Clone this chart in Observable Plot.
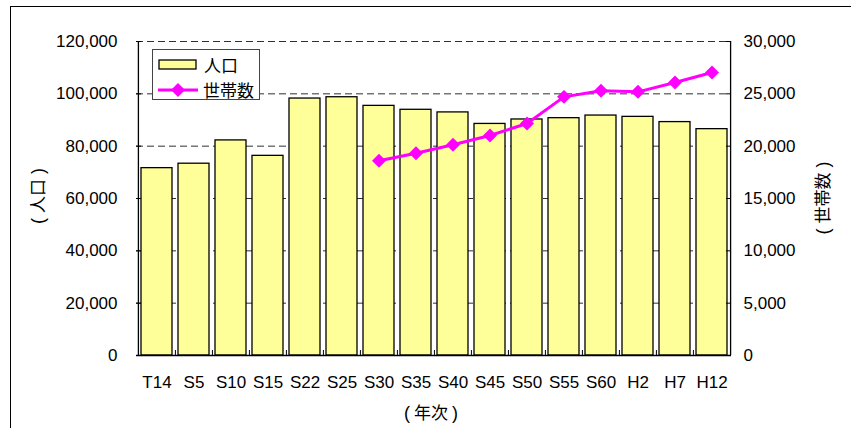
<!DOCTYPE html>
<html><head><meta charset="utf-8">
<script src="https://cdn.jsdelivr.net/npm/d3@7"></script>
<script src="https://cdn.jsdelivr.net/npm/@observablehq/plot@0.6"></script>
<style>
html,body{margin:0;padding:0;background:#fff;overflow:hidden}
#wrap{position:relative;width:851px;height:428px;overflow:hidden;font-family:"Liberation Sans",Arial,sans-serif;color:#000}
#frame{position:absolute;left:10px;top:6px;width:1000px;height:1000px;border:1px solid #000;box-sizing:border-box}
#chart{position:absolute;left:0;top:0}
.cjk{font-family:"Noto Sans CJK JP","Noto Sans CJK SC",sans-serif}
.vt{position:absolute;white-space:nowrap;font-size:17px;transform:translate(-50%,-50%) rotate(-90deg)}
.vt .p{font-family:"Liberation Sans",Arial,sans-serif;font-size:18px;margin:0 5px}
#xt{position:absolute;white-space:nowrap;font-size:17px;transform:translate(-50%,-50%)}
#xt .p{font-family:"Liberation Sans",Arial,sans-serif;font-size:18px;margin:0 4px}
#legend{position:absolute;left:152px;top:49px;width:108px;height:51px;border:1.5px solid #444;box-sizing:border-box;background:#fff}
#legend .row{position:absolute;left:0;height:20px;display:flex;align-items:center}
#legend .lbl{font-size:17px;margin-left:6px;line-height:20px}
</style></head>
<body><div id="wrap">
<div id="frame"></div>
<div id="chart"></div>
<div class="vt cjk" style="left:36px;top:196px"><span class="p">(</span>人口<span class="p">)</span></div>
<div class="vt cjk" style="left:821px;top:198px"><span class="p">(</span>世帯数<span class="p">)</span></div>
<div id="xt" class="cjk" style="left:431px;top:411px"><span class="p">(</span>年次<span class="p">)</span></div>
<div id="legend">
  <div class="row" style="left:5px;top:5px">
    <svg width="40" height="12"><rect x="1" y="1" width="37" height="9" fill="#FFFF99" stroke="#000" stroke-width="1.3"/></svg>
    <span class="lbl cjk">人口</span>
  </div>
  <div class="row" style="left:4px;top:30px">
    <svg width="42" height="16"><line x1="1" y1="8" x2="41" y2="8" stroke="#FF00FF" stroke-width="3"/><path d="M21,1L28,8L21,15L14,8Z" fill="#FF00FF"/></svg>
    <span class="lbl cjk" style="margin-left:4px">世帯数</span>
  </div>
</div>
</div>
<script>
const years = ["T14","S5","S10","S15","S22","S25","S30","S35","S40","S45","S50","S55","S60","H2","H7","H12"];
const population = [71600,73300,82200,76300,98200,98700,95400,93900,92900,88500,90200,90700,91700,91200,89200,86500];
const households = [null,null,null,null,null,null,18600,19330,20130,21020,22170,24710,25290,25190,26080,27040];
const leftTicks = [0,20000,40000,60000,80000,100000,120000];
const rightTicks = [0,5000,10000,15000,20000,25000,30000];

const data = years.map((y,i)=>({year:y, pop:population[i], hh:households[i]}));
const hhData = data.filter(d=>d.hh!=null);
const ratio = 120000/30000;
const W=851, H=428, ml=136, mr=120, mt=41, mb=73;
const step = (W-ml-mr)/years.length;
const fw = W-ml-mr, fh = H-mt-mb;
const fmt = d3.format(",");

const chart = Plot.plot({
  width:W, height:H, marginLeft:ml, marginRight:mr, marginTop:mt, marginBottom:mb,
  style:{fontFamily:'"Liberation Sans",Arial,sans-serif', fontSize:"17px", background:"transparent", color:"#000"},
  x:{domain:years, paddingInner:0.17, paddingOuter:0.085, label:null},
  y:{domain:[0,120000], label:null},
  marks:[
    Plot.ruleY(leftTicks.slice(1), {stroke:"#303030", strokeDasharray:"7,4", strokeWidth:1}),
    Plot.barY(data, {x:"year", y:"pop", fill:"#FFFF99", stroke:"#000", strokeWidth:1.3}),
    Plot.line(hhData, {x:"year", y:d=>d.hh*ratio, stroke:"#FF00FF", strokeWidth:3}),
    Plot.dot(hhData, {x:"year", y:d=>d.hh*ratio, symbol:"diamond2", r:6.3, fill:"#FF00FF", stroke:"none"}),
    Plot.ruleY([0], {stroke:"#000", strokeWidth:1.3}),
    Plot.ruleX([years[0]], {dx:-step/2, stroke:"#000", strokeWidth:1.3}),
    Plot.ruleX([years[years.length-1]], {dx:step/2, stroke:"#000", strokeWidth:1.3}),
    Plot.tickY(leftTicks, {y:d=>d, insetRight:fw-5, stroke:"#000"}),
    Plot.tickY(leftTicks, {y:d=>d, insetLeft:fw-5, stroke:"#000"}),
    Plot.tickX(years.slice(1), {x:d=>d, dx:-step/2, insetTop:fh-5, stroke:"#000"}),
    Plot.axisY(leftTicks, {anchor:"left", tickSize:0, tickPadding:19, tickFormat:fmt, label:null}),
    Plot.axisY(leftTicks, {anchor:"right", tickSize:0, tickPadding:12, tickFormat:d=>fmt(d/ratio), label:null}),
    Plot.axisX({tickSize:0, tickPadding:20, label:null})
  ]
});
document.getElementById("chart").appendChild(chart);
</script>
</body></html>
